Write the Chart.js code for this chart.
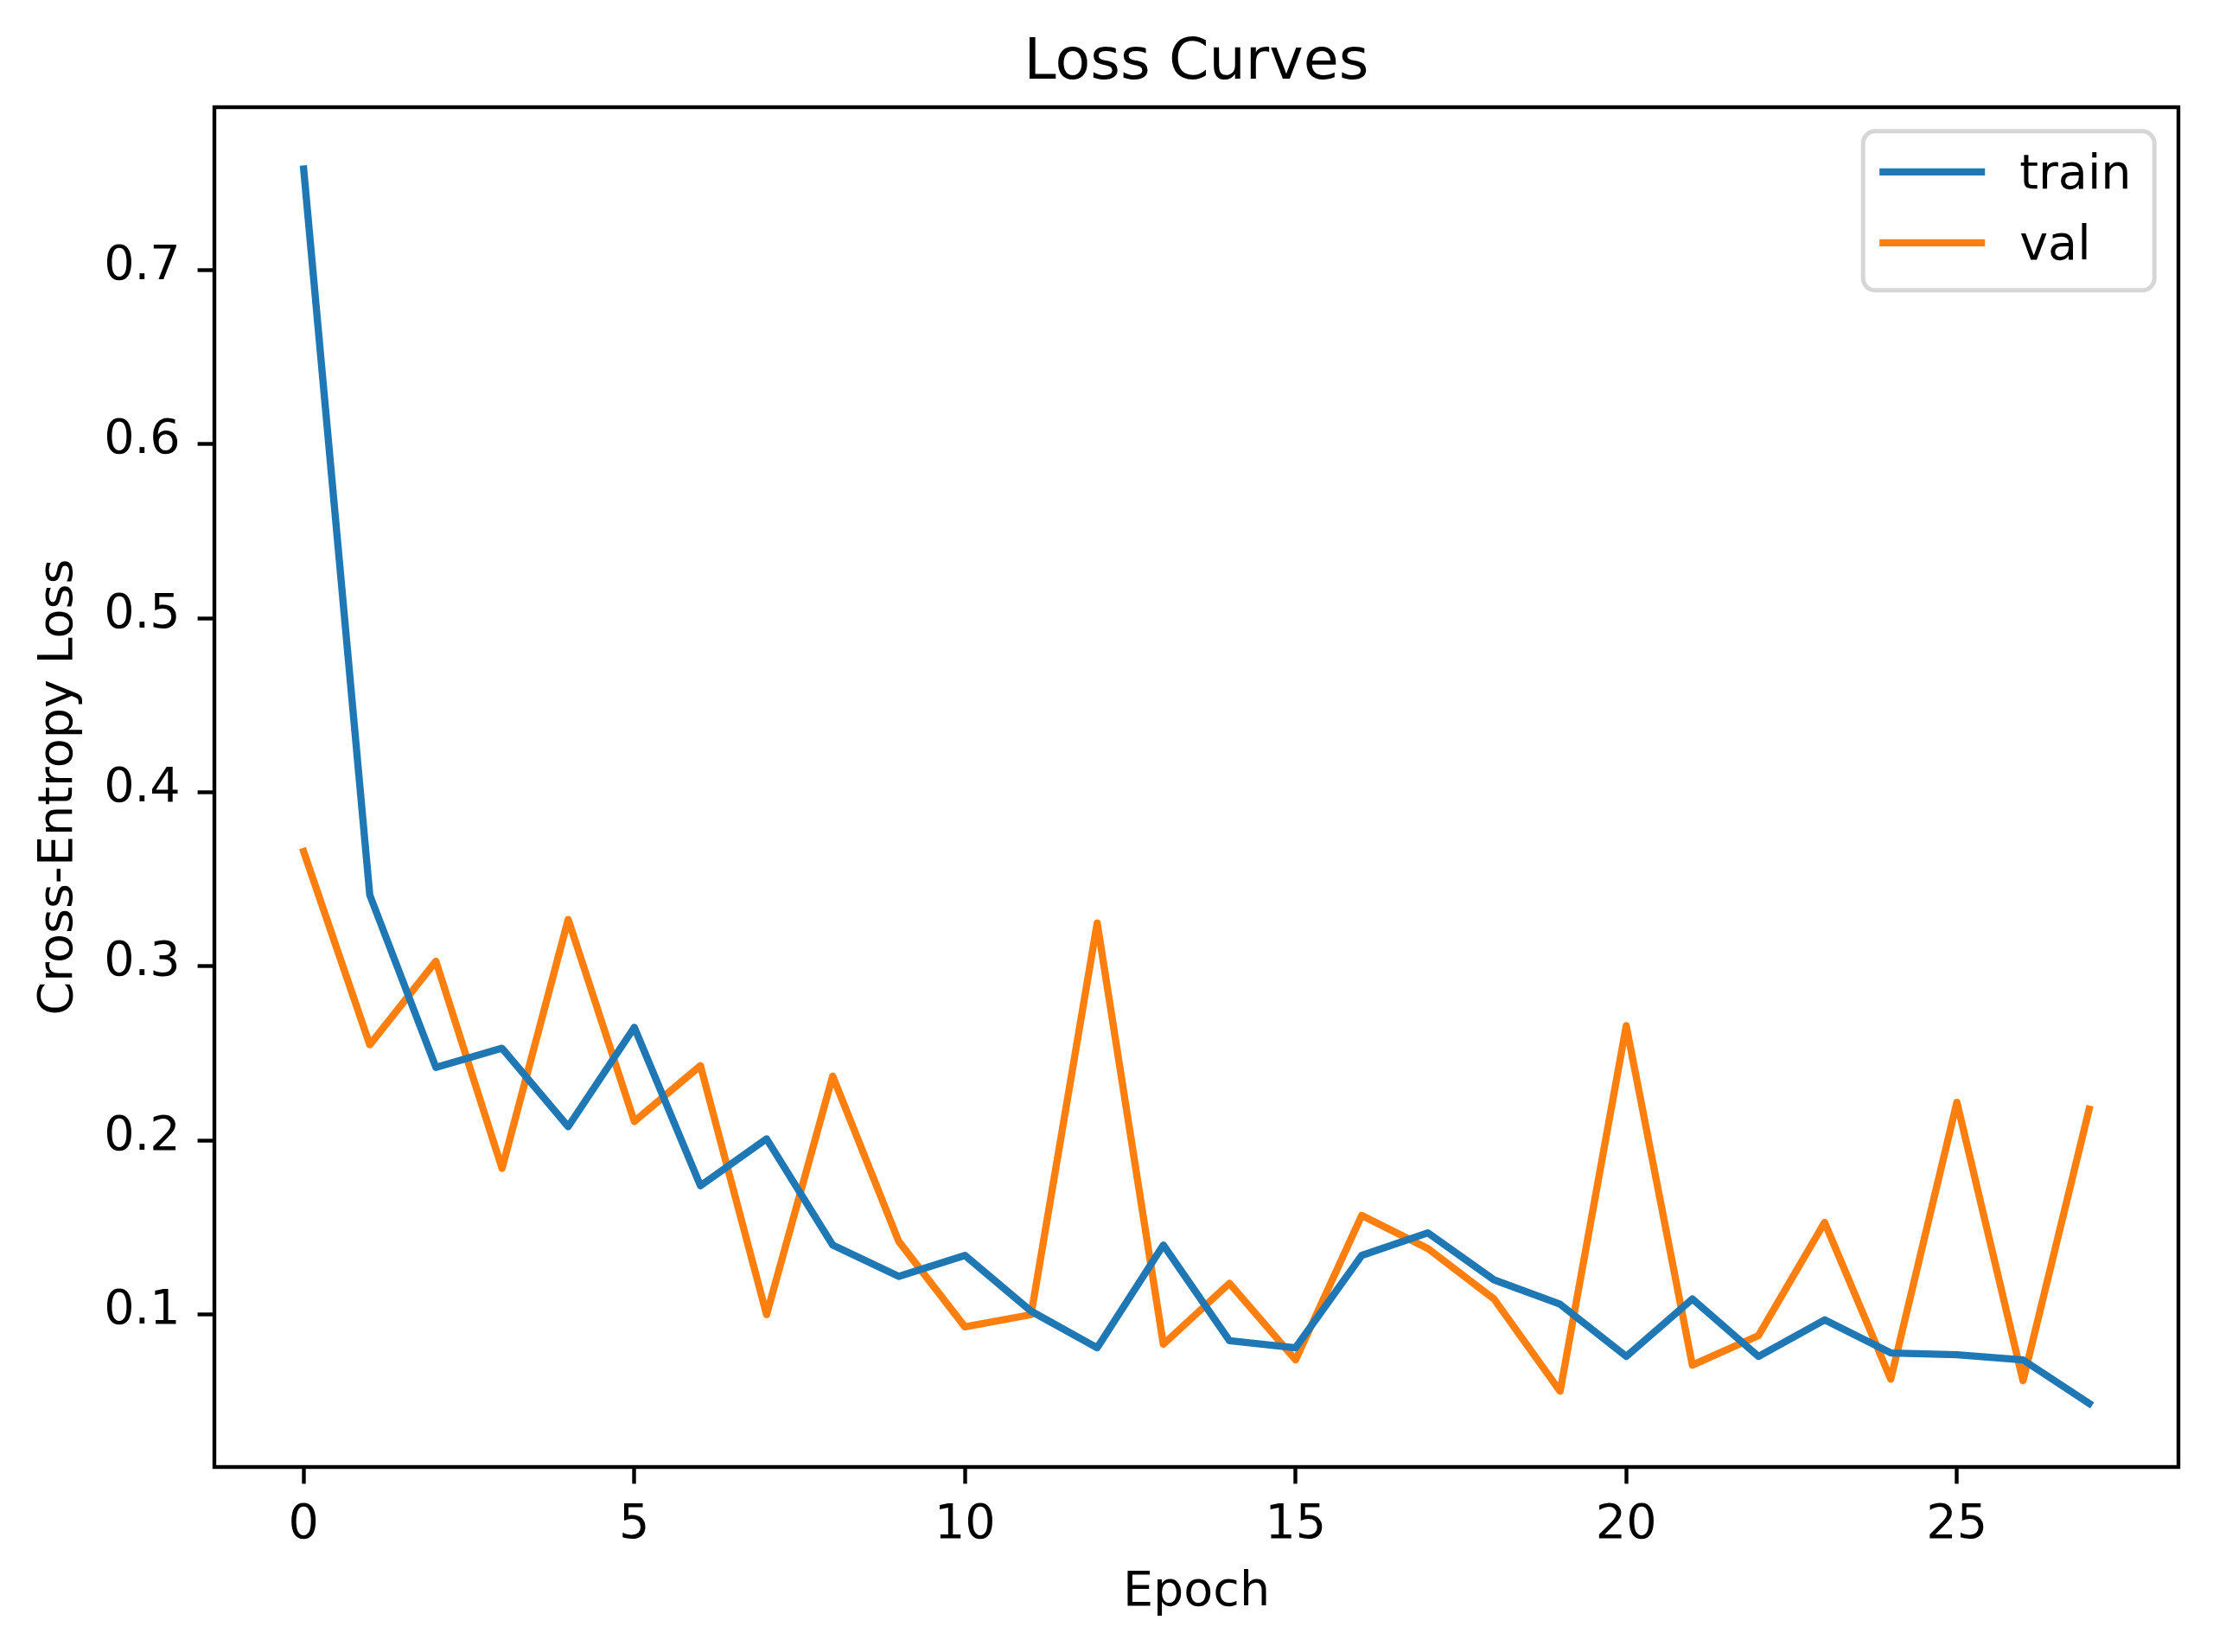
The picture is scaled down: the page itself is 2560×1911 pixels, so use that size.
<!DOCTYPE html>
<html>
<head>
<meta charset="utf-8">
<script src="https://cdn.jsdelivr.net/npm/chart.js@4"></script>
<style>
  html, body { margin: 0; padding: 0; background: #ffffff; }
  #wrap { width: 2560px; height: 1911px; }
  canvas { display: block; }
</style>
</head>
<body>
<div id="wrap"><canvas id="c" width="2560" height="1911"></canvas></div>
<script>
// ---- data ----
const epochs = [0,1,2,3,4,5,6,7,8,9,10,11,12,13,14,15,16,17,18,19,20,21,22,23,24,25,26,27];
const trainLoss = [0.758,0.341,0.242,0.253,0.208,0.265,0.174,0.201,0.140,0.122,0.134,0.102,0.081,0.140,
                   0.085,0.081,0.134,0.147,0.120,0.106,0.076,0.109,0.076,0.097,0.078,0.077,0.074,0.049];
const valLoss   = [0.366,0.255,0.303,0.184,0.327,0.211,0.243,0.100,0.237,0.142,0.093,0.100,0.325,0.083,
                   0.118,0.074,0.157,0.138,0.109,0.056,0.266,0.071,0.088,0.153,0.063,0.222,0.062,0.218];
const seriesNames = ['train', 'val'];
const seriesColors = ['#1f77b4', '#ff7f0e'];
const xTickValues = [0, 5, 10, 15, 20, 25];
const yTickValues = [0.1, 0.2, 0.3, 0.4, 0.5, 0.6, 0.7];
const titleText = 'Loss Curves';
const xTitle = 'Epoch';
const yTitle = 'Cross-Entropy Loss';

// ---- layout constants (pixels) ----
const W = 2560, H = 1911;
const AREA = { left: 248, right: 2520, top: 124, bottom: 1697 };
const FONT = 'DejaVu Sans';
const TICK_FS = 55.6, TITLE_FS = 66.7;
const LW = 8.33, SPINE = 4.4, TICKLEN = 19.4;

const toPoints = arr => arr.map((v, i) => ({ x: epochs[i], y: v }));

const framePlugin = {
  id: 'frame',
  afterDatasetsDraw(chart) {
    const { ctx, chartArea: a } = chart;
    ctx.save();
    ctx.strokeStyle = '#000';
    ctx.lineWidth = SPINE;
    ctx.lineJoin = 'miter';
    ctx.strokeRect(a.left, a.top, a.right - a.left, a.bottom - a.top);
    ctx.restore();
  }
};

const titlePlugin = {
  id: 'axesTitle',
  afterDraw(chart) {
    const { ctx, chartArea: a } = chart;
    ctx.save();
    ctx.font = `${TITLE_FS}px "${FONT}"`;
    ctx.fillStyle = '#000';
    ctx.textAlign = 'center';
    ctx.textBaseline = 'alphabetic';
    ctx.fillText(titleText, (a.left + a.right) / 2, a.top - 33.5);
    ctx.restore();
  }
};

const legendPlugin = {
  id: 'mplLegend',
  afterDraw(chart) {
    const { ctx, chartArea: a } = chart;
    const pad = 27.8;
    const bw = 337, bh = 184;
    const x0 = a.right - pad - bw, y0 = a.top + pad;
    const r = 14;
    ctx.save();
    ctx.beginPath();
    ctx.moveTo(x0 + r, y0);
    ctx.lineTo(x0 + bw - r, y0);
    ctx.arcTo(x0 + bw, y0, x0 + bw, y0 + r, r);
    ctx.lineTo(x0 + bw, y0 + bh - r);
    ctx.arcTo(x0 + bw, y0 + bh, x0 + bw - r, y0 + bh, r);
    ctx.lineTo(x0 + r, y0 + bh);
    ctx.arcTo(x0, y0 + bh, x0, y0 + bh - r, r);
    ctx.lineTo(x0, y0 + r);
    ctx.arcTo(x0, y0, x0 + r, y0, r);
    ctx.closePath();
    ctx.fillStyle = 'rgba(255,255,255,0.8)';
    ctx.fill();
    ctx.strokeStyle = '#d6d6d6';
    ctx.lineWidth = 5;
    ctx.stroke();

    ctx.font = `${TICK_FS}px "${FONT}"`;
    ctx.textBaseline = 'alphabetic';
    ctx.textAlign = 'left';
    chart.data.datasets.forEach((ds, i) => {
      const ly = y0 + 47 + i * 82;
      ctx.beginPath();
      ctx.moveTo(x0 + 19, ly);
      ctx.lineTo(x0 + 141, ly);
      ctx.strokeStyle = ds.borderColor;
      ctx.lineWidth = LW;
      ctx.lineCap = 'butt';
      ctx.stroke();
      ctx.fillStyle = '#000';
      ctx.fillText(ds.label, x0 + 181, ly + 19);
    });
    ctx.restore();
  }
};

const chart = new Chart(document.getElementById('c'), {
  type: 'line',
  data: {
    datasets: [
      { label: seriesNames[0], data: toPoints(trainLoss), borderColor: seriesColors[0], backgroundColor: seriesColors[0],
        borderWidth: LW, pointRadius: 0, tension: 0, borderJoinStyle: 'round', borderCapStyle: 'square', fill: false },
      { label: seriesNames[1], data: toPoints(valLoss), borderColor: seriesColors[1], backgroundColor: seriesColors[1],
        borderWidth: LW, pointRadius: 0, tension: 0, borderJoinStyle: 'round', borderCapStyle: 'square', fill: false }
    ]
  },
  options: {
    responsive: false,
    devicePixelRatio: 1,
    animation: false,
    events: [],
    layout: { padding: { left: 0, right: W - AREA.right, top: AREA.top, bottom: 0 } },
    plugins: {
      legend: { display: false },
      tooltip: { enabled: false },
      title: { display: false }
    },
    scales: {
      x: {
        type: 'linear',
        min: -1.35,
        max: 28.35,
        afterBuildTicks: s => { s.ticks = xTickValues.map(v => ({ value: v })); },
        afterFit: s => { s.height = H - AREA.bottom; },
        ticks: {
          autoSkip: false, maxRotation: 0, minRotation: 0,
          color: '#000',
          font: { family: FONT, size: TICK_FS, lineHeight: 1.2 },
          padding: 15,
          callback: v => String(v)
        },
        grid: { display: true, drawOnChartArea: false, drawTicks: true, tickLength: TICKLEN, tickWidth: SPINE, tickColor: '#000' },
        border: { display: false },
        title: {
          display: true, text: xTitle, color: '#000',
          font: { family: FONT, size: TICK_FS, lineHeight: 1.2 },
          padding: { top: 0, bottom: 35 }
        }
      },
      y: {
        type: 'linear',
        min: 0.0125,
        max: 0.7935,
        afterBuildTicks: s => { s.ticks = yTickValues.map(v => ({ value: v })); },
        afterFit: s => { s.width = AREA.left; },
        ticks: {
          autoSkip: false,
          color: '#000',
          font: { family: FONT, size: TICK_FS, lineHeight: 1.2 },
          padding: 20,
          labelOffset: -4,
          callback: v => Number(v).toFixed(1)
        },
        grid: { display: true, drawOnChartArea: false, drawTicks: true, tickLength: TICKLEN, tickWidth: SPINE, tickColor: '#000' },
        border: { display: false },
        title: {
          display: true, text: yTitle, color: '#000',
          font: { family: FONT, size: TICK_FS, lineHeight: 1.2 },
          padding: { top: 35, bottom: 0 }
        }
      }
    }
  },
  plugins: [framePlugin, titlePlugin, legendPlugin]
});
</script>
</body>
</html>
